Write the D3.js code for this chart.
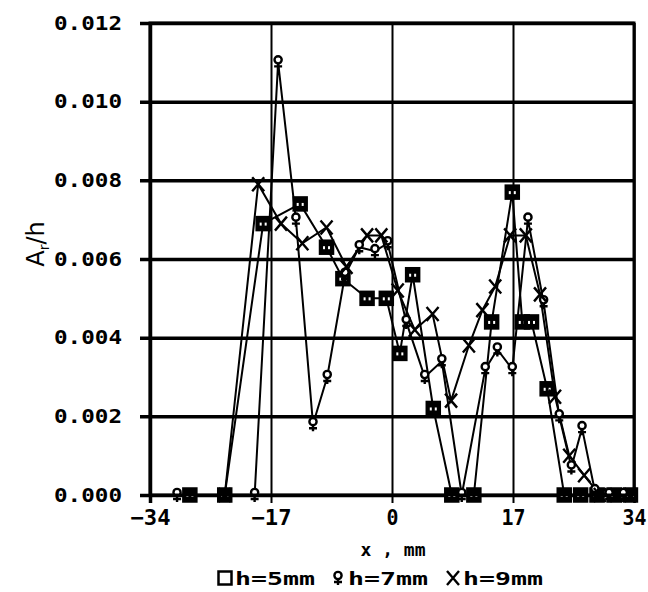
<!DOCTYPE html>
<html>
<head>
<meta charset="utf-8">
<script src="https://cdn.jsdelivr.net/npm/d3@7"></script>
<style>
  body { margin: 0; background: #fff; }
  text { font-family: "DejaVu Sans Mono", monospace; font-weight: bold; fill: #000; }
</style>
</head>
<body>
<svg id="chart" width="648" height="592"></svg>
<script>
// tick labels
const xTicks = [-34, -17, 0, 17, 34];
const yTicks = [0, 0.002, 0.004, 0.006, 0.008, 0.010, 0.012];

// h = 5 mm (squares)
const sqX = [-28.4, -23.5, -18.1, -12.9, -9.2, -6.9, -3.5, -0.8, 1.1, 2.9, 5.8, 8.4, 11.5, 14.0, 16.9, 18.3, 19.6, 21.8, 24.2, 26.5, 28.8, 31.2, 33.5];
const sqY = [0, 0, 0.0069, 0.0074, 0.0063, 0.0055, 0.0050, 0.0050, 0.0036, 0.0056, 0.0022, 0, 0, 0.0044, 0.0077, 0.0044, 0.0044, 0.0027, 0, 0, 0, 0, 0];

// h = 7 mm (circle with stem)
const dmX = [-30.2, -19.3, -16.0, -13.5, -11.1, -9.1, -6.6, -4.6, -2.4, -0.6, 2.0, 4.6, 7.0, 9.8, 13.1, 14.8, 16.9, 19.1, 21.3, 23.5, 25.2, 26.7, 28.5, 30.5, 32.5];
const dmY = [0, 0, 0.0110, 0.0070, 0.0018, 0.0030, 0.0056, 0.0063, 0.0062, 0.0064, 0.0044, 0.0030, 0.0034, 0, 0.0032, 0.0037, 0.0032, 0.0070, 0.0049, 0.0020, 0.0007, 0.0017, 0.0001, 0, 0];

// h = 9 mm (crosses)
const xsX = [-23.5, -18.8, -15.6, -12.6, -9.2, -6.4, -3.5, -1.5, 0.8, 3.2, 5.7, 8.3, 10.8, 12.7, 14.5, 16.6, 18.8, 20.8, 22.9, 24.9, 27.0, 29.2, 31.5, 33.5];
const xsY = [0, 0.0079, 0.0069, 0.0064, 0.0068, 0.0058, 0.0066, 0.0066, 0.0052, 0.0042, 0.0046, 0.0024, 0.0038, 0.0047, 0.0053, 0.0066, 0.0066, 0.0051, 0.0025, 0.0010, 0.0005, 0, 0, 0];

const paper = d3.select("#chart");
const plotLeft = 150, plotRight = 634, plotTop = 23, plotBottom = 495;

const x = d3.scaleLinear().domain([-34, 34]).range([plotLeft, plotRight]);
const y = d3.scaleLinear().domain([0, 0.012]).range([plotBottom, plotTop]);

// horizontal grid + y labels
const yAxis = paper.append("g")
    .attr("transform", `translate(${plotLeft},0)`)
    .call(d3.axisLeft(y).tickValues(yTicks).tickSize(0).tickFormat(d3.format(".3f")).tickPadding(28));
yAxis.select(".domain").remove();
yAxis.selectAll(".tick line")
    .attr("x1", -10).attr("x2", plotRight - plotLeft)
    .attr("stroke", "#000").attr("stroke-width", 3.5);
yAxis.selectAll(".tick text")
    .attr("font-size", 19)
    .attr("textLength", 68)
    .attr("lengthAdjust", "spacingAndGlyphs");

// vertical grid + x labels
const xAxis = paper.append("g")
    .attr("transform", `translate(0,${plotBottom})`)
    .call(d3.axisBottom(x).tickValues(xTicks).tickSize(0).tickFormat(d => d < 0 ? "\u2212" + (-d) : d).tickPadding(15));
xAxis.select(".domain").remove();
xAxis.selectAll(".tick line")
    .attr("y1", plotTop - plotBottom).attr("y2", 8)
    .attr("stroke", "#000")
    .attr("stroke-width", (d, i) => (i === 0 ? 3.5 : i === xTicks.length - 1 ? 2.5 : 2));
xAxis.selectAll(".tick text")
    .attr("font-size", 21)
    .attr("textLength", d => String(Math.abs(d)).length * 12 + (d < 0 ? 16 : 0))
    .attr("lengthAdjust", "spacingAndGlyphs");

// series lines
const line = d3.line().x(d => x(d[0])).y(d => y(d[1]));
const series = [
    {key: "sq", pts: d3.zip(sqX, sqY)},
    {key: "dm", pts: d3.zip(dmX, dmY)},
    {key: "xs", pts: d3.zip(xsX, xsY)}
];

paper.selectAll(".seriesLine")
    .data(series)
    .join("path")
    .attr("class", "seriesLine")
    .attr("d", s => line(s.pts))
    .attr("fill", "none")
    .attr("stroke", "#000")
    .attr("stroke-width", 2);

// marker drawers
function drawSquare(g, filled) {
    g.append("rect").attr("x", -6.5).attr("y", -6.5).attr("width", 13).attr("height", 13)
        .attr("fill", filled ? "#000" : "#fff").attr("stroke", "#000").attr("stroke-width", 2.5);
    if (filled) {
        g.append("rect").attr("x", -3.5).attr("y", -1).attr("width", 2).attr("height", 3).attr("fill", "#fff");
        g.append("rect").attr("x", 1.5).attr("y", -1).attr("width", 2).attr("height", 3).attr("fill", "#fff");
    }
}
function drawStem(g) {
    g.append("circle").attr("cx", 0).attr("cy", -2.5).attr("r", 3.6)
        .attr("fill", "#fff").attr("stroke", "#000").attr("stroke-width", 2.4);
    g.append("path").attr("d", "M0,1V7M-4,4H4")
        .attr("stroke", "#000").attr("stroke-width", 2.4).attr("fill", "none");
}
function drawCross(g) {
    g.append("path").attr("d", "M-6,-7L6,7M6,-7L-6,7")
        .attr("stroke", "#000").attr("stroke-width", 2.4).attr("fill", "none");
}

paper.selectAll(".markSq")
    .data(series[0].pts)
    .join("g")
    .attr("class", "markSq")
    .attr("transform", d => `translate(${x(d[0])},${y(d[1])})`)
    .each(function () { drawSquare(d3.select(this), true); });

paper.selectAll(".markDm")
    .data(series[1].pts)
    .join("g")
    .attr("class", "markDm")
    .attr("transform", d => `translate(${x(d[0])},${y(d[1])})`)
    .each(function () { drawStem(d3.select(this)); });

paper.selectAll(".markXs")
    .data(series[2].pts)
    .join("g")
    .attr("class", "markXs")
    .attr("transform", d => `translate(${x(d[0])},${y(d[1])})`)
    .each(function () { drawCross(d3.select(this)); });

// frame
paper.append("rect")
    .attr("x", plotLeft).attr("y", plotTop)
    .attr("width", plotRight - plotLeft).attr("height", plotBottom - plotTop)
    .attr("fill", "none").attr("stroke", "#000").attr("stroke-width", 3);

// axis titles
paper.append("text")
    .attr("x", (plotLeft + plotRight) / 2 + 1).attr("y", 556)
    .attr("text-anchor", "middle")
    .attr("font-size", 18)
    .text("x , mm");

const yTitle = paper.append("text")
    .attr("transform", "translate(44,244) rotate(-90)")
    .attr("text-anchor", "middle")
    .style("font-size", "24px")
    .style("font-weight", "normal")
    .style("font-family", "'DejaVu Sans', sans-serif");
yTitle.append("tspan").text("A");
yTitle.append("tspan").style("font-size", "14px").attr("dy", 5).text("r");
yTitle.append("tspan").attr("dy", -5).text("/h");

// legend
const legendItems = [
    {label: "h=5mm", draw: g => drawSquare(g, false), x: 225},
    {label: "h=7mm", draw: drawStem, x: 338},
    {label: "h=9mm", draw: drawCross, x: 453}
];
const legend = paper.selectAll(".legendItem")
    .data(legendItems)
    .join("g")
    .attr("class", "legendItem")
    .attr("transform", d => `translate(${d.x},578)`);
legend.each(function (d) {
    const g = d3.select(this);
    d.draw(g.append("g"));
    g.append("text")
        .attr("x", 10).attr("y", 7)
        .attr("font-size", 17)
        .attr("textLength", 80)
        .attr("lengthAdjust", "spacingAndGlyphs")
        .text(d.label);
});
</script>
</body>
</html>
